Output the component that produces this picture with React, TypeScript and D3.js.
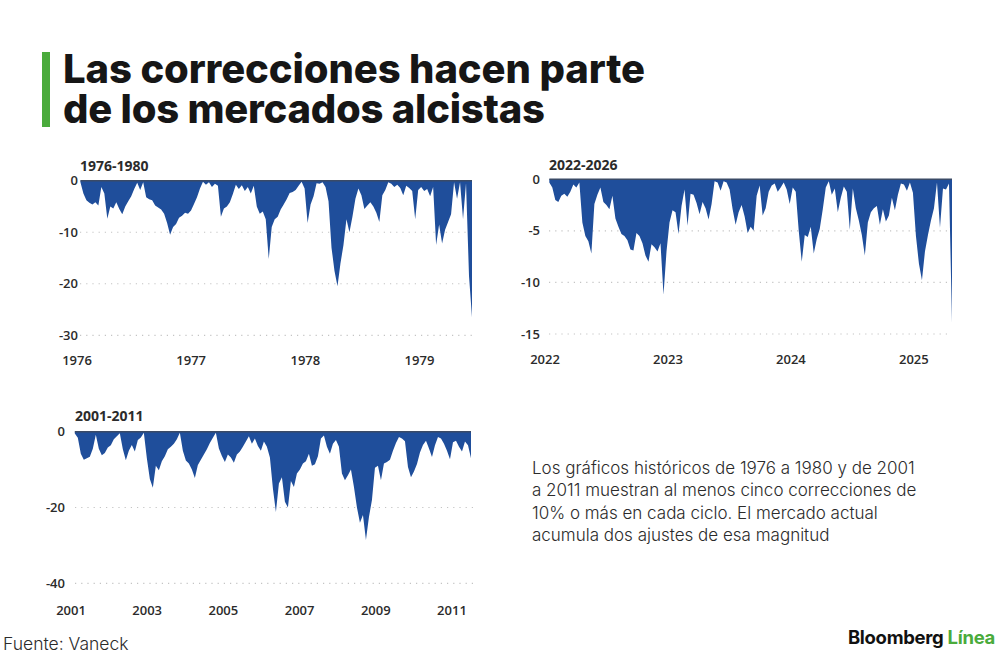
import React from 'react';
import * as d3 from 'd3';

// drawdown (%), evenly spaced in time
const values7680 = [
  -0.3, -2.5, -3.8, -4.3, -4.6, -4.2, -4.8, -1.2, -2.5, -7.4,
  -5.0, -5.4, -4.2, -5.5, -6.5, -5.0, -4.0, -3.0, -1.6, -0.4,
  -1.8, -0.3, -3.2, -3.6, -3.8, -4.8, -5.2, -5.6, -6.4, -8.2,
  -10.5, -9.0, -8.4, -7.2, -6.8, -6.2, -6.4, -5.8, -4.5, -3.2,
  -1.5, -0.2, -0.8, -0.3, -1.2, -0.6, -1.0, -7.0, -5.4, -5.0,
  -4.2, -2.6, -0.8, -1.6, -0.9, -2.0, -1.2, -2.5, -1.0, -5.0,
  -6.4, -6.0, -7.5, -15.2, -9.0, -7.5, -7.0, -5.6, -4.6, -3.6,
  -2.4, -2.2, -1.8, -1.0, -0.2, -1.5, -8.2, -4.6, -3.0, -0.5,
  -0.6, -0.3, -1.2, -4.0, -13.0, -17.5, -20.5, -16.0, -12.5, -7.5,
  -10.0, -7.0, -3.5, -1.5, -2.8, -5.5, -4.8, -4.2, -5.0, -6.2,
  -8.0, -2.8, -1.8, -0.3, -0.6, -1.2, -0.8, -1.4, -2.8, -1.0,
  -1.4, -2.0, -7.5, -1.8, -1.2, -2.0, -1.6, -3.0, -1.2, -12.5,
  -8.5, -12.2, -9.5, -8.0, -6.5, -0.3, -3.5, -0.3, -7.5, -0.5,
  -18.5, -26.5,
];

const values2225 = [
  -0.3, -0.8, -2.0, -2.2, -1.6, -1.4, -1.7, -1.2, -0.5, -0.8,
  -0.3, -4.2, -5.5, -6.0, -7.2, -2.4, -1.5, -0.8, -2.2, -2.5,
  -2.9, -1.6, -3.8, -4.6, -5.3, -5.5, -5.9, -6.8, -6.9, -5.2,
  -5.5, -6.2, -7.4, -8.0, -6.3, -6.6, -7.0, -6.2, -11.2, -7.0,
  -4.2, -3.0, -3.2, -5.3, -2.6, -1.0, -4.5, -1.4, -1.5, -2.3,
  -3.4, -2.2, -2.8, -3.9, -2.4, -0.2, -0.3, -1.1, -0.2, -0.3,
  -1.0, -2.9, -4.4, -3.2, -2.5, -3.6, -5.2, -4.6, -5.0, -1.6,
  -0.6, -3.5, -2.8, -1.2, -0.6, -0.4, -1.2, -0.8, -0.3, -1.0,
  -2.4, -0.8, -1.2, -5.0, -8.0, -5.4, -5.6, -4.6, -7.2, -5.8,
  -4.8, -2.9, -0.8, -0.2, -1.5, -0.9, -3.2, -1.8, -0.7, -1.2,
  -4.9, -0.9, -2.8, -4.0, -5.4, -7.4, -4.2, -3.2, -2.8, -2.6,
  -4.4, -2.9, -4.1, -3.5, -1.8, -3.0, -1.5, -0.4, -0.5, -1.1,
  -0.3, -1.3, -5.5, -8.2, -9.8, -7.0, -5.4, -4.0, -2.8, -0.3,
  -4.7, -0.9, -1.0, -0.4, -13.9,
];

const values0111 = [
  -0.5, -1.6, -5.8, -7.4, -7.0, -6.6, -4.5, -0.8, -4.5, -6.2,
  -5.6, -4.2, -3.6, -2.0, -1.2, -0.4, -4.6, -7.5, -5.0, -3.5,
  -5.2, -2.2, -1.5, -0.3, -7.0, -12.5, -14.8, -9.0, -10.2, -7.8,
  -6.5, -4.6, -4.0, -3.2, -2.0, -0.3, -5.0, -7.6, -8.4, -10.0,
  -12.2, -8.8, -7.4, -6.0, -4.6, -3.0, -1.6, -0.3, -4.4, -6.4,
  -8.0, -6.0, -6.8, -8.2, -6.0, -5.2, -4.0, -2.6, -1.2, -3.2,
  -1.8, -3.8, -5.0, -2.6, -4.0, -6.8, -15.0, -21.2, -13.7, -12.0,
  -18.5, -20.0, -13.0, -14.6, -11.0, -10.0, -8.4, -7.8, -5.8, -9.0,
  -8.6, -6.5, -1.8, -1.0, -4.0, -5.8, -3.2, -2.2, -4.0, -11.0,
  -12.8, -11.5, -10.0, -14.6, -20.0, -24.0, -22.0, -28.6, -22.5, -18.0,
  -9.5, -9.0, -12.8, -8.4, -8.0, -7.4, -5.0, -3.0, -1.4, -1.8,
  -2.5, -9.3, -12.0, -10.5, -8.5, -5.5, -3.5, -2.4, -4.4, -6.7,
  -3.6, -1.4, -1.8, -3.2, -5.0, -7.3, -2.8, -2.4, -4.0, -5.2,
  -2.6, -3.6, -7.0,
];

const years7680 = [1976, 1977, 1978, 1979];
const years2225 = [2022, 2023, 2024, 2025];
const years0111 = [2001, 2003, 2005, 2007, 2009, 2011];

const ticks7680 = [0, -10, -20, -30];
const ticks2225 = [0, -5, -10, -15];
const ticks0111 = [0, -20, -40];

const titleLines = ['Las correcciones hacen parte', 'de los mercados alcistas'];

const noteLines = [
  'Los gráficos históricos de 1976 a 1980 y de 2001',
  'a 2011 muestran al menos cinco correcciones de',
  '10% o más en cada ciclo. El mercado actual',
  'acumula dos ajustes de esa magnitud',
];

const BLUE = '#1f4e9b';
const GREEN = '#4aab3c';
const TEXT = '#2b2b2b';

interface PanelProps {
  title: string;
  values: number[];
  first: number; // time of first sample
  last: number;  // time of last sample
  years: number[];
  ticks: number[];
  xDomain: [number, number];
  xRange: [number, number];
  yRange: [number, number];
  gridLeft: number;
  gridRight: number;
  labelRight: number;
  xLabelY: number;
  titleX: number;
  titleY: number;
}

const Panel: React.FC<PanelProps> = (p) => {
  const x = d3.scaleLinear().domain(p.xDomain).range(p.xRange);
  const y = d3.scaleLinear()
    .domain([0, p.ticks[p.ticks.length - 1]])
    .range(p.yRange);

  const step = (p.last - p.first) / (p.values.length - 1);
  const area = d3.area<number>()
    .x((_, i) => x(p.first + i * step))
    .y0(y(0))
    .y1(d => y(d));

  const x0 = x(p.first);
  const x1 = x(p.last);

  return (
    <g>
      <text x={p.titleX} y={p.titleY} fontFamily="Open Sans" fontWeight={700}
        fontSize={14} fill={TEXT}>{p.title}</text>

      {p.ticks.filter(t => t !== 0).map(t => (
        <line key={t} x1={p.gridLeft} x2={p.gridRight} y1={y(t)} y2={y(t)}
          stroke="#c4c4c4" strokeWidth={1.2} strokeDasharray="1.2 5" />
      ))}

      <path d={area(p.values) || ''} fill={BLUE} />
      <line x1={x0} x2={x1} y1={y(0)} y2={y(0)} stroke="#3a4a66" strokeWidth={1.4} />

      {p.ticks.map(t => (
        <text key={t} x={p.labelRight} y={y(t)} dy="0.35em" textAnchor="end"
          fontFamily="Open Sans" fontWeight={600} fontSize={13} fill={TEXT}>{t}</text>
      ))}

      {p.years.map(yr => (
        <text key={yr} x={x(yr)} y={p.xLabelY} textAnchor="middle"
          fontFamily="Open Sans" fontWeight={600} fontSize={13} fill={TEXT}>{yr}</text>
      ))}
    </g>
  );
};

export default function App() {
  return (
    <svg width={1000} height={660} viewBox="0 0 1000 660"
      style={{ position: 'absolute', left: 0, top: 0, background: '#fff' }}>
      <rect x={0} y={0} width={1000} height={660} fill="#fff" />

      {/* headline */}
      <rect x={42} y={52} width={8} height={75} fill={GREEN} />
      <text x={63} y={83} fontFamily="Inter" fontWeight={800} fontSize={40}
        fill="#161616" textLength={582} lengthAdjust="spacing">{titleLines[0]}</text>
      <text x={63} y={123} fontFamily="Inter" fontWeight={800} fontSize={40}
        fill="#161616" textLength={482} lengthAdjust="spacing">{titleLines[1]}</text>

      <Panel title="1976-1980" values={values7680} first={1976.03} last={1979.46}
        years={years7680} ticks={ticks7680}
        xDomain={[1976, 1979.46]} xRange={[77, 472]} yRange={[180.7, 335.3]}
        gridLeft={80} gridRight={473} labelRight={78} xLabelY={365}
        titleX={80} titleY={171} />

      <Panel title="2022-2026" values={values2225} first={2022.035} last={2025.31}
        years={years2225} ticks={ticks2225}
        xDomain={[2022, 2025.31]} xRange={[545, 952]} yRange={[179.3, 334]}
        gridLeft={549} gridRight={950} labelRight={540} xLabelY={364}
        titleX={549} titleY={170} />

      <Panel title="2001-2011" values={values0111} first={2001.1} last={2011.5}
        years={years0111} ticks={ticks0111}
        xDomain={[2001, 2011.5]} xRange={[71, 471]} yRange={[431.7, 583.3]}
        gridLeft={75} gridRight={473} labelRight={65} xLabelY={615}
        titleX={75} titleY={421} />

      {/* note */}
      {noteLines.map((line, i) => (
        <text key={i} x={532} y={474 + i * 22.3} fontFamily="Inter" fontWeight={300}
          fontSize={17} fill={TEXT}>{line}</text>
      ))}

      {/* footer */}
      <text x={3} y={650} fontFamily="Inter" fontWeight={300} fontSize={17.5} fill={TEXT}>
        Fuente: Vaneck
      </text>
      <text x={995} y={644} textAnchor="end" fontFamily="Inter" fontWeight={700}
        fontSize={18.5} fill="#111" letterSpacing={-0.3}>
        Bloomberg <tspan fill={GREEN}>Línea</tspan>
      </text>
    </svg>
  );
}
